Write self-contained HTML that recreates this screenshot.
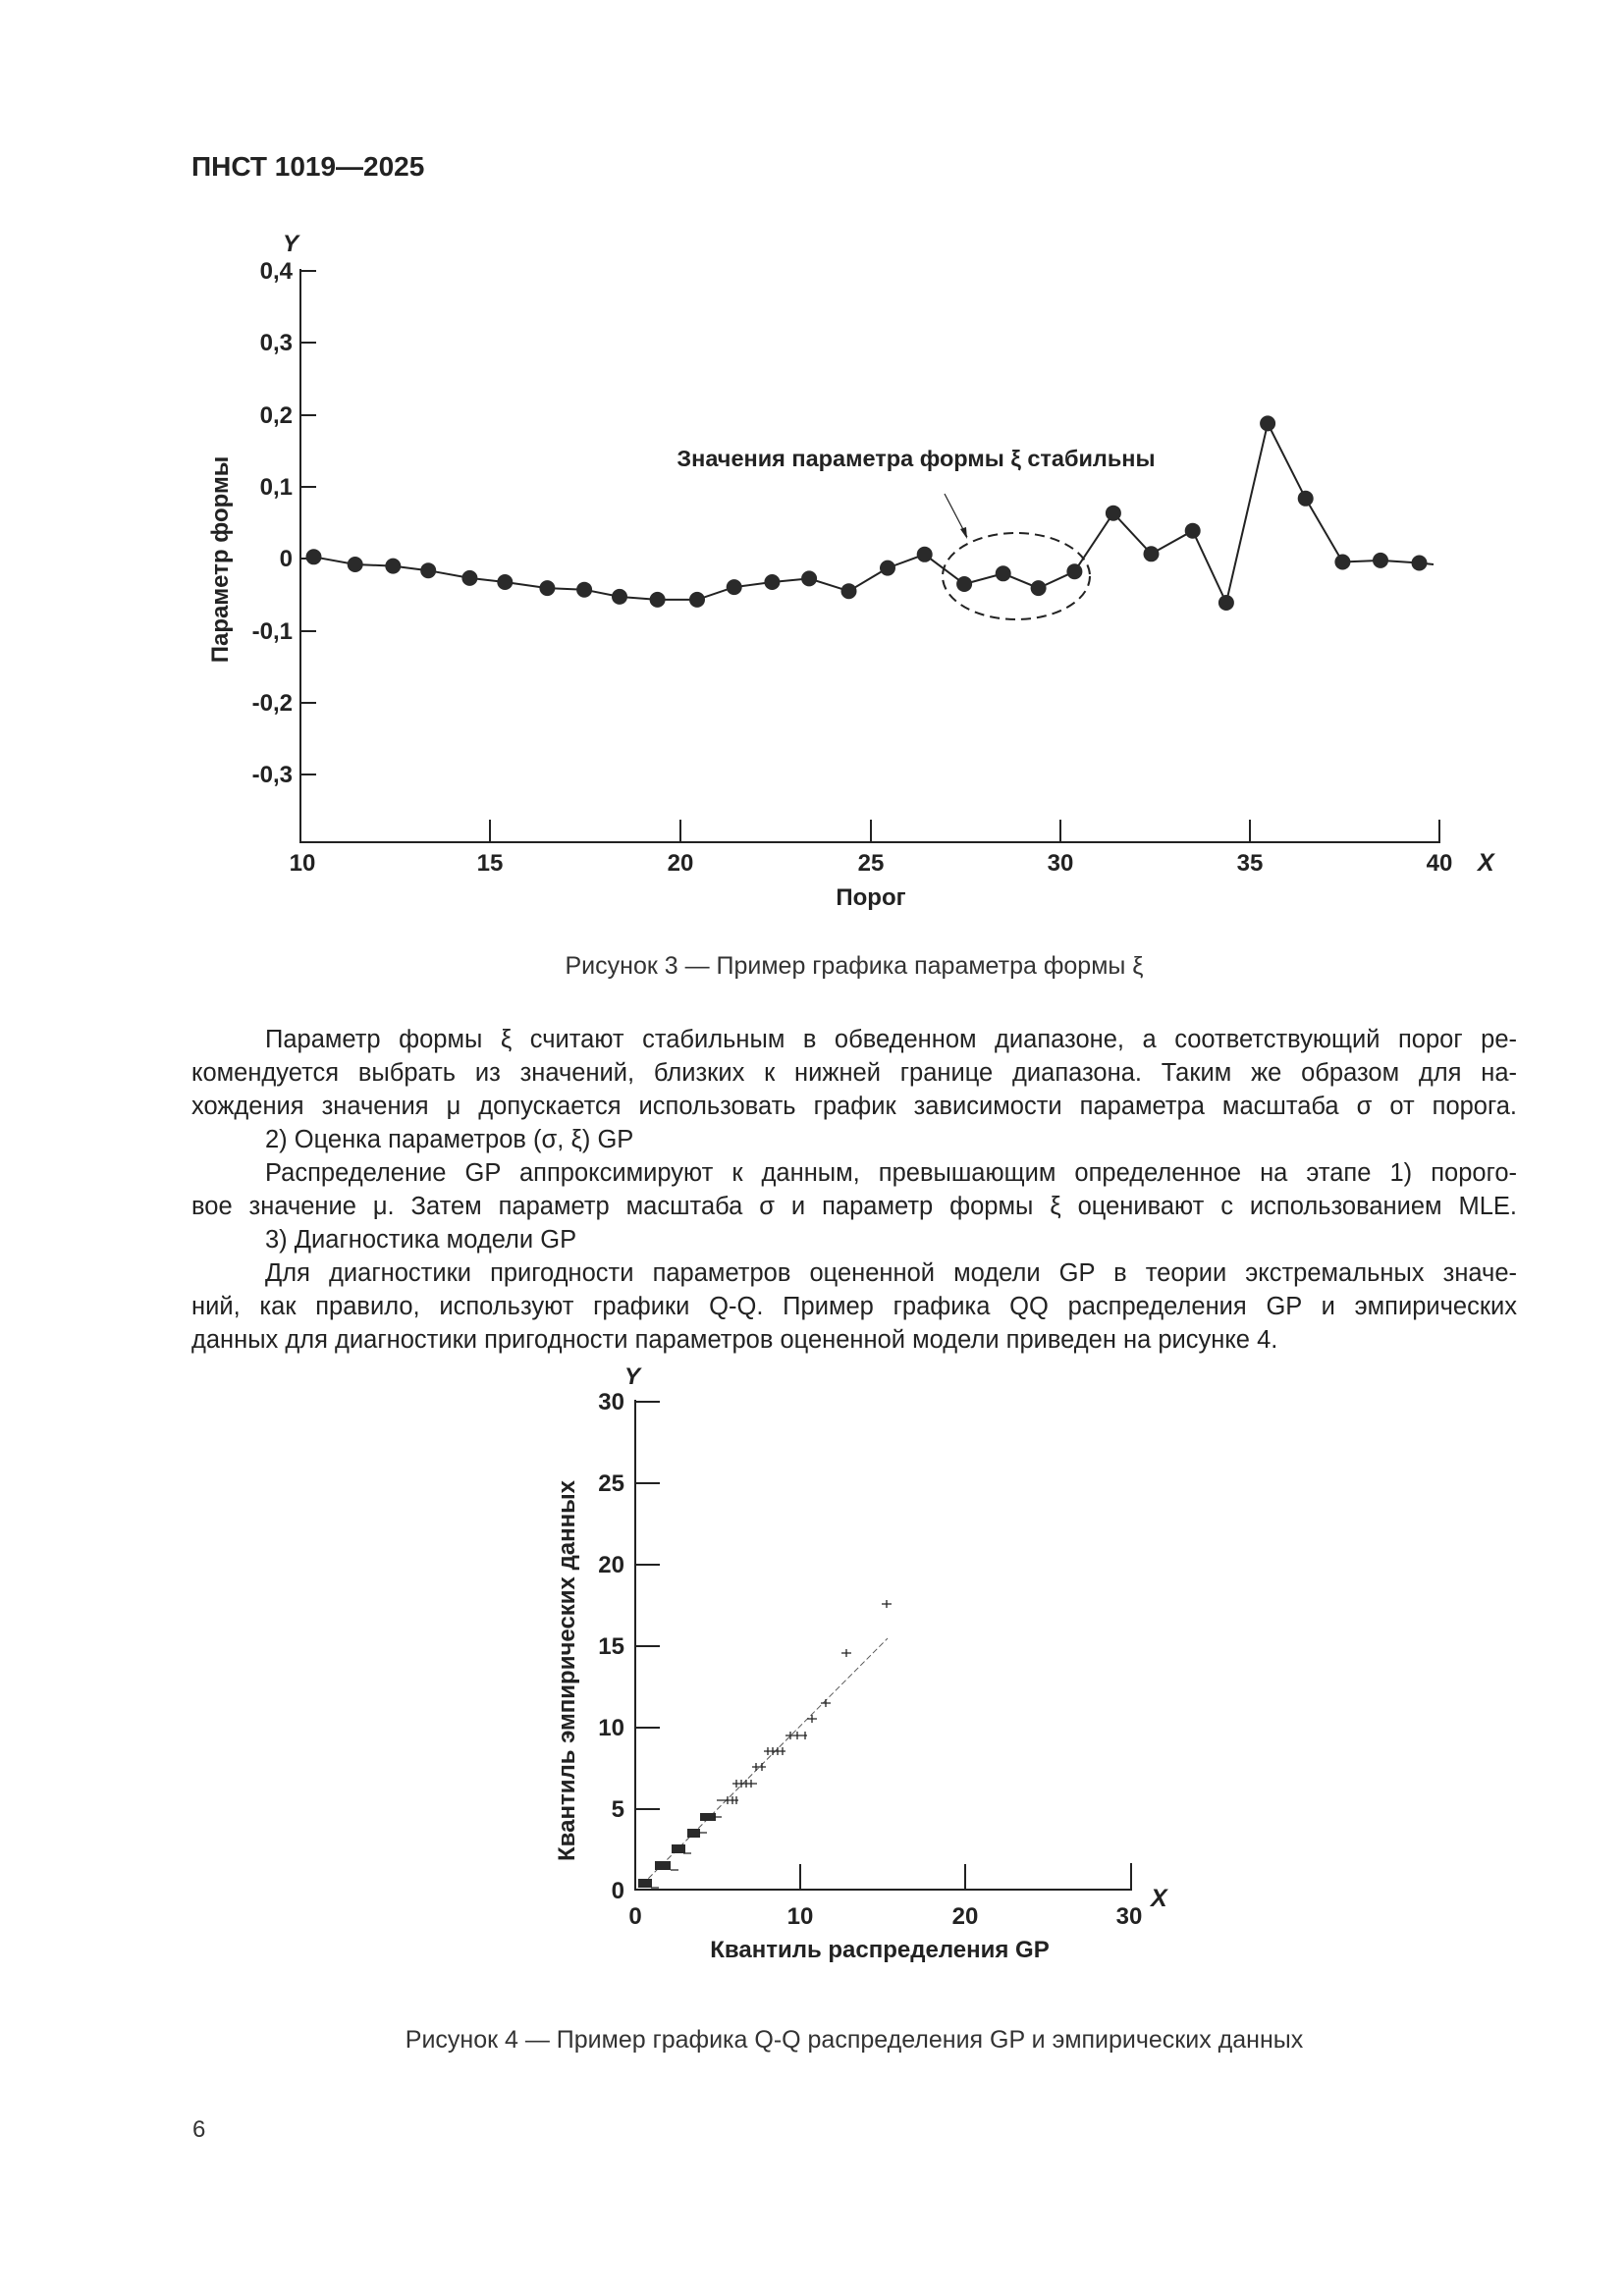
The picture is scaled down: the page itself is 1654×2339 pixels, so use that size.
<!DOCTYPE html>
<html><head><meta charset="utf-8">
<style>
html,body{margin:0;padding:0;background:#fff;}
body{width:1654px;height:2339px;position:relative;overflow:hidden;font-family:"Liberation Sans","Noto Sans CJK SC",sans-serif;color:#222;}
.ln{position:absolute;left:195px;width:1350px;font-size:25.5px;line-height:34px;white-space:nowrap;text-align:justify;text-align-last:justify;}
.ind{left:270px;width:1275px;}
.last{text-align-last:left;}
svg{position:absolute;left:0;top:0;}
</style></head><body>
<svg width="1654" height="2339" viewBox="0 0 1654 2339" font-family="Liberation Sans, sans-serif">
<text x="195" y="179" font-size="28" font-weight="bold" fill="#222">ПНСТ 1019—2025</text>

<!-- Chart 1 -->
<g stroke="#222" stroke-width="2" fill="none">
<path d="M306 274 V858 H1466 V835"/>
<path d="M306 276 h16 M306 349 h16 M306 423 h16 M306 496 h16 M306 569 h16 M306 643 h16 M306 716 h16 M306 789 h16"/>
<path d="M499 858 v-23 M693 858 v-23 M887 858 v-23 M1080 858 v-23 M1273 858 v-23"/>
</g>
<g font-size="24" font-weight="bold" fill="#222" text-anchor="end">
<text x="298" y="284">0,4</text><text x="298" y="357">0,3</text><text x="298" y="431">0,2</text>
<text x="298" y="504">0,1</text><text x="298" y="577">0</text><text x="298" y="651">-0,1</text>
<text x="298" y="724">-0,2</text><text x="298" y="797">-0,3</text>
</g>
<g font-size="24" font-weight="bold" fill="#222" text-anchor="middle">
<text x="308" y="887">10</text><text x="499" y="887">15</text><text x="693" y="887">20</text>
<text x="887" y="887">25</text><text x="1080" y="887">30</text><text x="1273" y="887">35</text><text x="1466" y="887">40</text>
<text x="887" y="922">Порог</text>
</g>
<text x="288" y="256" font-size="24" font-weight="bold" font-style="italic" fill="#222">Y</text>
<text x="1505" y="887" font-size="25" font-weight="bold" font-style="italic" fill="#222">X</text>
<text transform="translate(232,570) rotate(-90)" font-size="24" font-weight="bold" fill="#222" text-anchor="middle">Параметр формы</text>
<text x="933" y="475" font-size="23.5" font-weight="bold" fill="#222" text-anchor="middle">Значения параметра формы ξ стабильны</text>
<ellipse cx="1035" cy="587" rx="75" ry="44" fill="none" stroke="#222" stroke-width="2" stroke-dasharray="10,6"/>
<path d="M962 503 L985 547" stroke="#222" stroke-width="1.2"/>
<path d="M985 549 l-7 -10 l6 -2 z" fill="#222"/>
<polyline fill="none" stroke="#222" stroke-width="2" points="319.5,567.3 361.7,575 400.3,576.6 436.2,581.2 478.4,588.9 514.3,593 557.4,599.1 595.1,600.7 631,607.9 669.6,610.9 710,610.9 747.7,598.1 786.4,593 824.1,589.4 864.5,602.2 904,578.6 941.7,564.8 982.1,595 1021.7,584.3 1057.6,599.1 1094.4,582.2 1133.9,522.7 1172.5,564.3 1214.7,540.7 1248.9,614 1291.1,431.4 1329.7,507.8 1367.4,572.5 1406,570.9 1445.5,573.5 1460,575"/>
<g fill="#2a2a2a">
<circle cx="319.5" cy="567.3" r="8"/><circle cx="361.7" cy="575" r="8"/><circle cx="400.3" cy="576.6" r="8"/><circle cx="436.2" cy="581.2" r="8"/><circle cx="478.4" cy="588.9" r="8"/><circle cx="514.3" cy="593" r="8"/><circle cx="557.4" cy="599.1" r="8"/><circle cx="595.1" cy="600.7" r="8"/><circle cx="631" cy="607.9" r="8"/><circle cx="669.6" cy="610.9" r="8"/><circle cx="710" cy="610.9" r="8"/><circle cx="747.7" cy="598.1" r="8"/><circle cx="786.4" cy="593" r="8"/><circle cx="824.1" cy="589.4" r="8"/><circle cx="864.5" cy="602.2" r="8"/><circle cx="904" cy="578.6" r="8"/><circle cx="941.7" cy="564.8" r="8"/><circle cx="982.1" cy="595" r="8"/><circle cx="1021.7" cy="584.3" r="8"/><circle cx="1057.6" cy="599.1" r="8"/><circle cx="1094.4" cy="582.2" r="8"/><circle cx="1133.9" cy="522.7" r="8"/><circle cx="1172.5" cy="564.3" r="8"/><circle cx="1214.7" cy="540.7" r="8"/><circle cx="1248.9" cy="614" r="8"/><circle cx="1291.1" cy="431.4" r="8"/><circle cx="1329.7" cy="507.8" r="8"/><circle cx="1367.4" cy="572.5" r="8"/><circle cx="1406" cy="570.9" r="8"/><circle cx="1445.5" cy="573.5" r="8"/>
</g>
<text x="870" y="992" font-size="25" fill="#333" text-anchor="middle">Рисунок 3 — Пример графика параметра формы ξ</text>

<!-- Chart 2 -->
<g transform="translate(0,-8)">
<g stroke="#222" stroke-width="2" fill="none">
<path d="M647 1434 V1933 H1152 V1906"/>
<path d="M647 1436 h25 M647 1519 h25 M647 1602 h25 M647 1685 h25 M647 1768 h25 M647 1851 h25"/>
<path d="M815 1933 v-26 M983 1933 v-26"/>
</g>
<g font-size="24" font-weight="bold" fill="#222" text-anchor="end">
<text x="636" y="1444">30</text><text x="636" y="1527">25</text><text x="636" y="1610">20</text>
<text x="636" y="1693">15</text><text x="636" y="1776">10</text><text x="636" y="1859">5</text><text x="636" y="1942">0</text>
</g>
<g font-size="24" font-weight="bold" fill="#222" text-anchor="middle">
<text x="647" y="1968">0</text><text x="815" y="1968">10</text><text x="983" y="1968">20</text><text x="1150" y="1968">30</text>
<text x="896" y="2002">Квантиль распределения GP</text>
</g>
<text x="636" y="1418" font-size="24" font-weight="bold" font-style="italic" fill="#222">Y</text>
<text x="1172" y="1950" font-size="25" font-weight="bold" font-style="italic" fill="#222">X</text>
<text transform="translate(585,1710) rotate(-90)" font-size="24" font-weight="bold" fill="#222" text-anchor="middle">Квантиль эмпирических данных</text>
<path d="M654 1928 L904 1677" stroke="#555" stroke-width="1" stroke-dasharray="6,3" fill="none"/>
<g fill="#2a2a2a">
<rect x="650" y="1922" width="14" height="9"/>
<rect x="667" y="1904" width="16" height="9"/>
<rect x="684" y="1887" width="14" height="9"/>
<rect x="700" y="1871" width="13" height="9"/>
<rect x="713" y="1855" width="16" height="8"/>
</g>
<g stroke="#222" stroke-width="1.3" fill="none">
<path d="M663 1931 h8 M683 1913 h8 M696 1896 h8 M712 1875 h8 M727 1859 h8"/>
<path d="M752 1842 h-22 M741 1838 v8 M746 1838 v8 M750 1838 v8"/>
<path d="M746 1825 h25 M750 1821 v8 M755 1821 v8 M760 1821 v8 M765 1821 v8"/>
<path d="M766 1808 h14 M770 1804 v8 M776 1804 v8"/>
<path d="M778 1792 h22 M782 1788 v8 M787 1788 v8 M792 1788 v8 M797 1788 v8"/>
<path d="M800 1776 h22 M805 1772 v8 M812 1772 v8 M820 1772 v8"/>
<path d="M822 1759 h10 M827 1755 v8"/>
<path d="M836 1743 h10 M841 1739 v8"/>
<path d="M857 1692 h10 M862 1688 v8"/>
<path d="M898 1642 h10 M903 1638 v8"/>
</g>
</g>
<text x="870" y="2098" font-size="25" fill="#333" text-anchor="middle" transform="translate(0,-12)">Рисунок 4 — Пример графика Q-Q распределения GP и эмпирических данных</text>
<text x="196" y="2177" font-size="24" fill="#333">6</text>
</svg>

<div class="ln ind" style="top:1042px">Параметр формы ξ считают стабильным в обведенном диапазоне, а соответствующий порог ре-</div>
<div class="ln" style="top:1076px">комендуется выбрать из значений, близких к нижней границе диапазона. Таким же образом для на-</div>
<div class="ln" style="top:1110px">хождения значения μ допускается использовать график зависимости параметра масштаба σ от порога.</div>
<div class="ln ind last" style="top:1144px">2) Оценка параметров (σ, ξ) GP</div>
<div class="ln ind" style="top:1178px">Распределение GP аппроксимируют к данным, превышающим определенное на этапе 1) порого-</div>
<div class="ln" style="top:1212px">вое значение μ. Затем параметр масштаба σ и параметр формы ξ оценивают с использованием MLE.</div>
<div class="ln ind last" style="top:1246px">3) Диагностика модели GP</div>
<div class="ln ind" style="top:1280px">Для диагностики пригодности параметров оцененной модели GP в теории экстремальных значе-</div>
<div class="ln" style="top:1314px">ний, как правило, используют графики Q-Q. Пример графика QQ распределения GP и эмпирических</div>
<div class="ln last" style="top:1348px">данных для диагностики пригодности параметров оцененной модели приведен на рисунке 4.</div>
</body></html>
